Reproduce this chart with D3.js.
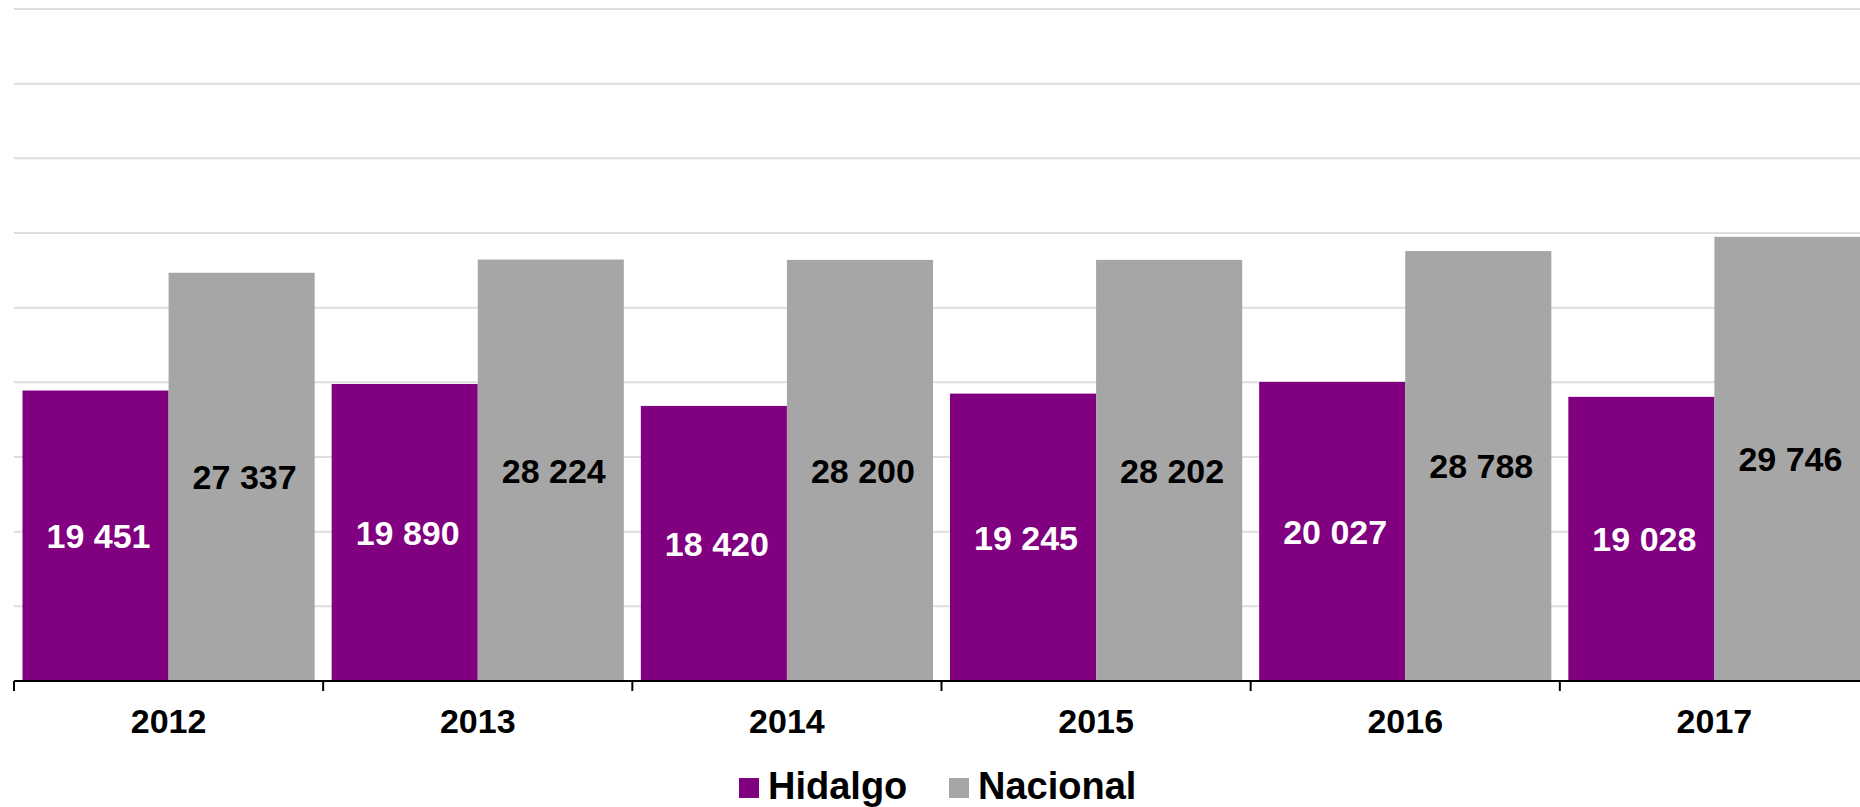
<!DOCTYPE html>
<html>
<head>
<meta charset="utf-8">
<script src="https://cdn.jsdelivr.net/npm/d3@7"></script>
<style>
  html, body { margin: 0; padding: 0; background: #fff; overflow: hidden; }
  svg { display: block; font-family: "Liberation Sans", Arial, sans-serif; }
</style>
</head>
<body>
<svg id="chart" width="1860" height="807"></svg>
<script>
// data
const years = ["2012", "2013", "2014", "2015", "2016", "2017"];
const series = ["Hidalgo", "Nacional"];
const hidalgo = [19451, 19890, 18420, 19245, 20027, 19028];
const nacional = [27337, 28224, 28200, 28202, 28788, 29746];
const gridValues = [5000, 10000, 15000, 20000, 25000, 30000, 35000, 40000, 45000];

const colors = { Hidalgo: "#800080", Nacional: "#a6a6a6" };
const labelColors = { Hidalgo: "#ffffff", Nacional: "#000000" };

const width = 1860, height = 807;
const margin = { top: 9, left: 14, bottom: 126 };
const plotRight = 1869;
const baseline = height - margin.bottom;

const svg = d3.select("#chart");

const x0 = d3.scaleBand().domain(years).range([margin.left, plotRight])
    .paddingInner(0.055).paddingOuter(0.0275);
const x1 = d3.scaleBand().domain(series).range([0, x0.bandwidth()]);
const y = d3.scaleLinear().domain([0, 45000]).range([baseline, margin.top]);

// gridlines
svg.append("g").selectAll("line").data(gridValues).join("line")
    .attr("x1", margin.left).attr("x2", width)
    .attr("y1", d => y(d)).attr("y2", d => y(d))
    .attr("stroke", "#dedede").attr("stroke-width", 2);

const rows = years.map((yr, i) => ({ year: yr, Hidalgo: hidalgo[i], Nacional: nacional[i] }));

const groups = svg.append("g").selectAll("g").data(rows).join("g")
    .attr("transform", d => `translate(${x0(d.year)},0)`);

groups.selectAll("rect").data(d => series.map(s => ({ key: s, value: d[s] }))).join("rect")
    .attr("x", d => x1(d.key)).attr("width", x1.bandwidth())
    .attr("y", d => y(d.value)).attr("height", d => baseline - y(d.value))
    .attr("fill", d => colors[d.key]);

groups.selectAll("text").data(d => series.map(s => ({ key: s, value: d[s] }))).join("text")
    .attr("x", d => x1(d.key) + x1.bandwidth() / 2 + 3)
    .attr("y", d => (y(d.value) + baseline) / 2)
    .attr("dy", "0.36em")
    .attr("text-anchor", "middle")
    .attr("font-size", "34px").attr("font-weight", "bold")
    .attr("fill", d => labelColors[d.key])
    .text(d => d3.format(",")(d.value).replace(",", " "));

// x axis line, boundary ticks, year labels
const step = x0.step();
const start = margin.left;
svg.append("line")
    .attr("x1", start).attr("x2", width)
    .attr("y1", baseline).attr("y2", baseline)
    .attr("stroke", "#000").attr("stroke-width", 2);

svg.append("g").selectAll("line").data(d3.range(years.length + 1)).join("line")
    .attr("x1", i => start + i * step).attr("x2", i => start + i * step)
    .attr("y1", baseline).attr("y2", baseline + 10)
    .attr("stroke", "#000").attr("stroke-width", 2);

svg.append("g").selectAll("text").data(years).join("text")
    .attr("x", d => x0(d) + x0.bandwidth() / 2)
    .attr("y", baseline + 52)
    .attr("text-anchor", "middle")
    .attr("font-size", "34px").attr("font-weight", "bold")
    .attr("fill", "#000")
    .text(d => d);

// legend
const legendItems = [
    { key: "Hidalgo", x: 739 },
    { key: "Nacional", x: 949 }
];
const legend = svg.append("g").selectAll("g").data(legendItems).join("g")
    .attr("transform", d => `translate(${d.x},778)`);
legend.append("rect").attr("width", 20).attr("height", 20)
    .attr("fill", d => colors[d.key]);
legend.append("text").attr("x", 29).attr("y", 21)
    .attr("font-size", "38px").attr("font-weight", "bold")
    .attr("fill", "#000")
    .text(d => d.key);
</script>
</body>
</html>
